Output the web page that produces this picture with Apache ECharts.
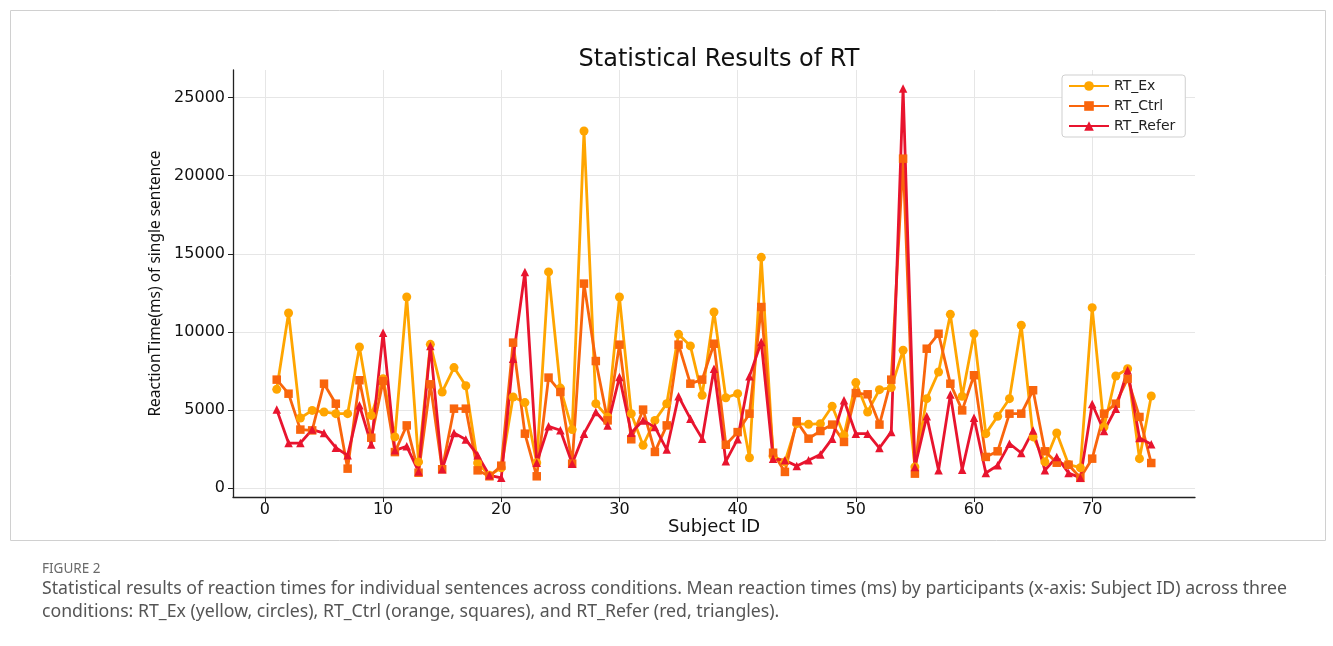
<!DOCTYPE html>
<html><head><meta charset="utf-8">
<script src="https://cdn.jsdelivr.net/npm/echarts@6/dist/echarts.min.js"></script>
<style>
html,body{margin:0;padding:0;background:#fff;width:1333px;height:646px;overflow:hidden;}
#chart{position:absolute;left:0;top:0;width:1333px;height:646px;}
</style></head>
<body>
<div id="chart"></div>
<script>
const subjectIds = [1,2,3,4,5,6,7,8,9,10,11,12,13,14,15,16,17,18,19,20,21,22,23,24,25,26,27,28,29,30,31,32,33,34,35,36,37,38,39,40,41,42,43,44,45,46,47,48,49,50,51,52,53,54,55,56,57,58,59,60,61,62,63,64,65,66,67,68,69,70,71,72,73,74,75];
const rtEx = [6320,11210,4480,4970,4870,4760,4760,9030,4650,7000,3270,12230,1670,9200,6150,7710,6550,1600,810,1300,5830,5470,1620,13840,6400,3740,22860,5400,4550,12230,4760,2730,4330,5400,9840,9100,5940,11270,5780,6040,1940,14770,2050,1670,4120,4080,4120,5230,3370,6750,4870,6300,6430,8820,1350,5720,7430,11120,5870,9880,3480,4590,5720,10420,3270,1670,3520,1500,1300,11550,3910,7170,7640,1880,5890];
const rtCtrl = [6940,6040,3740,3690,6680,5400,1240,6900,3220,6850,2300,4010,980,6640,1200,5080,5080,1130,750,1430,9310,3480,750,7070,6150,1560,13090,8130,4330,9180,3120,5020,2310,4010,9180,6680,6940,9240,2770,3580,4760,11590,2260,1030,4270,3160,3650,4060,2950,6080,6000,4060,6940,21090,920,8920,9880,6680,4970,7220,1990,2350,4760,4760,6260,2350,1620,1490,650,1880,4760,5400,7000,4550,1600];
const rtRefer = [5020,2880,2880,3740,3520,2580,2090,5300,2780,9950,2410,2670,1060,9100,1200,3520,3100,2100,810,650,8280,13840,1620,3950,3700,1560,3480,4870,4010,7110,3540,4330,3900,2460,5870,4440,3160,7640,1710,3130,7150,9350,1880,1770,1410,1770,2140,3160,5620,3480,3480,2560,3590,25580,1350,4590,1140,5980,1170,4500,960,1450,2840,2240,3690,1140,1990,960,650,5380,3650,5080,7540,3200,2800];
const xTicks = [0,10,20,30,40,50,60,70];
const yTicks = [0,5000,10000,15000,20000,25000];
const seriesNames = ['RT_Ex','RT_Ctrl','RT_Refer'];
const figLabel = 'FIGURE 2';
const captionLines = [
  'Statistical results of reaction times for individual sentences across conditions. Mean reaction times (ms) by participants (x-axis: Subject ID) across three',
  'conditions: RT_Ex (yellow, circles), RT_Ctrl (orange, squares), and RT_Refer (red, triangles).'
];

const pair = arr => subjectIds.map((id,i)=>[id,arr[i]]);
const chart = echarts.init(document.getElementById('chart'));
const F = 'DejaVu Sans';
const CF = "'Noto Sans'";
const mk = (name, arr, color, symbol, size) => ({
  name, type:'line', data: pair(arr), symbol, symbolSize:size, showSymbol:true,
  lineStyle:{color, width:2.8}, itemStyle:{color}, animation:false, z:3
});
chart.setOption({
  animation:false,
  grid:{left:233, top:70, width:962, height:427, containLabel:false},
  title:{text:'Statistical Results of RT', left:714, top:43, textAlign:'center',
    textStyle:{fontFamily:F, fontSize:24, fontWeight:'normal', color:'#111'}},
  graphic:[
    {type:'rect', shape:{x:10.5, y:10.5, width:1315, height:530}, style:{fill:'none', stroke:'#d0d0d0', lineWidth:1}, z:-1, silent:true},
    {type:'text', x:42, y:562, style:{text:figLabel, font:"13.5px " + CF, fill:'#6a6a6a'}, silent:true},
    {type:'text', x:42, y:580, style:{text:captionLines[0], font:"17.7px " + CF, fill:'#555'}, silent:true},
    {type:'text', x:42, y:603, style:{text:captionLines[1], font:"17.7px " + CF, fill:'#555'}, silent:true}
  ],
  legend:{orient:'vertical', left:1062, top:75, backgroundColor:'#fff', borderColor:'#cfcfcf', borderWidth:1, borderRadius:3,
    padding:[4,10,4,6], itemWidth:40, itemHeight:12, itemGap:6, data:seriesNames,
    textStyle:{fontFamily:F, fontSize:14, color:'#222'}},
  xAxis:{type:'value', min:-2.7, max:78.7,
    name:'Subject ID', nameLocation:'middle', nameGap:21, nameMoveOverlap:false, nameTextStyle:{fontFamily:F, fontSize:18, color:'#111'},
    axisLine:{show:true, onZero:false, lineStyle:{color:'#222', width:1.3}},
    axisTick:{show:true, customValues:xTicks, length:5, lineStyle:{color:'#222'}},
    axisLabel:{customValues:xTicks, fontFamily:F, fontSize:16, color:'#111', margin:5},
    splitLine:{show:true, lineStyle:{color:'#e6e6e6', width:1}}},
  yAxis:{type:'value', min:-576, max:26768,
    name:'ReactionTime(ms) of single sentence', nameLocation:'middle', nameGap:64,
    nameTextStyle:{fontFamily:'Noto Sans', fontSize:15.5, color:'#111'},
    axisLine:{show:true, onZero:false, lineStyle:{color:'#222', width:1.3}},
    axisTick:{show:true, customValues:yTicks, length:5, lineStyle:{color:'#222'}},
    axisLabel:{customValues:yTicks, formatter: v => String(v), fontFamily:F, fontSize:16, color:'#111', margin:8},
    splitLine:{show:true, lineStyle:{color:'#e6e6e6', width:1}}},
  series:[
    mk('RT_Ex', rtEx, '#FFA500', 'circle', 9),
    mk('RT_Ctrl', rtCtrl, '#F9650C', 'rect', 8.5),
    mk('RT_Refer', rtRefer, '#E8142E', 'triangle', 8.5)
  ]
});
</script>
</body></html>
